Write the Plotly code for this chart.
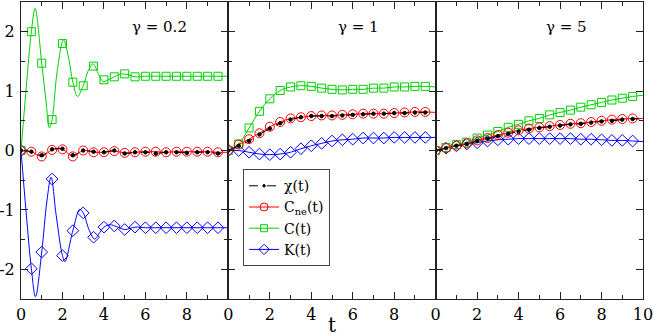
import plotly.graph_objects as go
from plotly.subplots import make_subplots

# ─── Data ─────────────────────────────────────────────────────────────────── #

T_MARK = [0, 0.5, 1, 1.5, 2, 2.5, 3, 3.5, 4, 4.5, 5, 5.5, 6, 6.5, 7, 7.5, 8, 8.5, 9, 9.5]
T_END = 10

# gamma = 0.2 (markers)
C_L = [0, 2.0, 1.47, 0.52, 1.80, 1.15, 1.09, 1.42, 1.19, 1.24, 1.29, 1.24,
       1.25, 1.25, 1.25, 1.25, 1.25, 1.25, 1.25, 1.25]
K_L = [0, -1.99, -1.71, -0.48, -1.77, -1.35, -1.05, -1.46, -1.29, -1.27, -1.33, -1.29,
       -1.30, -1.30, -1.30, -1.30, -1.30, -1.30, -1.30, -1.30]
CNE_L = [0, -0.02, -0.10, 0.01, 0.02, -0.10, 0.0, -0.03, -0.03, -0.01, -0.04, -0.03,
         -0.02, -0.02, -0.03, -0.02, -0.02, -0.02, -0.02, -0.03]
CHI_L = [0, -0.02, -0.08, 0.02, 0.03, -0.08, 0.0, -0.02, -0.03, 0.0, -0.05, -0.03,
         -0.03, -0.05, -0.03, -0.03, -0.04, -0.03, -0.03, -0.05]

# gamma = 0.2 (curves, with the extrema between markers)
C_L_LINE_T = [0, 0.25, 0.5, 0.68, 1.0, 1.2, 1.37, 1.5, 1.75, 2.05, 2.3, 2.5, 2.73, 3.0,
              3.25, 3.47, 3.75, 3.95, 4.2, 4.5, 4.85, 5.2, 5.5, 6, 7, 8, 9, 10]
C_L_LINE = [0, 1.05, 2.0, 2.39, 1.47, 0.85, 0.38, 0.52, 1.35, 1.86, 1.55, 1.15, 0.91, 1.09,
            1.35, 1.46, 1.28, 1.16, 1.19, 1.24, 1.29, 1.27, 1.24, 1.25, 1.25, 1.25, 1.25, 1.25]
K_L_LINE_T = [0, 0.25, 0.5, 0.7, 1.0, 1.25, 1.45, 1.7, 2.0, 2.12, 2.5, 2.83, 3.0, 3.3,
              3.55, 3.8, 4.0, 4.3, 4.6, 5.0, 5.5, 6, 7, 8, 9, 10]
K_L_LINE = [0, -1.05, -1.99, -2.46, -1.71, -0.85, -0.45, -1.1, -1.77, -1.87, -1.35, -0.99,
            -1.05, -1.35, -1.49, -1.38, -1.29, -1.25, -1.28, -1.33, -1.29, -1.30, -1.30,
            -1.30, -1.30, -1.30]

# gamma = 1 (markers + value at t = 10)
C_M = [0, 0.11, 0.38, 0.66, 0.87, 1.01, 1.07, 1.09, 1.08, 1.05, 1.03, 1.02,
       1.03, 1.03, 1.05, 1.05, 1.07, 1.07, 1.08, 1.08]
K_M = [0, 0.0, -0.03, -0.06, -0.07, -0.06, -0.03, 0.03, 0.08, 0.12, 0.16, 0.18,
       0.19, 0.21, 0.21, 0.21, 0.22, 0.22, 0.22, 0.22]
CNE_M = [0, 0.10, 0.19, 0.29, 0.40, 0.48, 0.54, 0.56, 0.58, 0.59, 0.59, 0.60,
         0.61, 0.62, 0.62, 0.62, 0.63, 0.64, 0.65, 0.65]
CHI_M = [0, 0.08, 0.16, 0.27, 0.37, 0.46, 0.52, 0.56, 0.58, 0.58, 0.58, 0.59,
         0.60, 0.61, 0.62, 0.62, 0.63, 0.63, 0.64, 0.64]
END_M = {"C": 1.07, "K": 0.22, "Cne": 0.64, "chi": 0.64}

# gamma = 5
C_R = [0, 0.05, 0.10, 0.14, 0.21, 0.26, 0.32, 0.39, 0.44, 0.50, 0.54, 0.60,
       0.64, 0.68, 0.73, 0.77, 0.81, 0.85, 0.88, 0.91]
K_R = [0, 0.04, 0.08, 0.11, 0.13, 0.16, 0.18, 0.19, 0.20, 0.20, 0.20, 0.20,
       0.20, 0.20, 0.19, 0.19, 0.18, 0.17, 0.17, 0.16]
CNE_R = [0, 0.04, 0.08, 0.12, 0.17, 0.21, 0.26, 0.30, 0.34, 0.37, 0.39, 0.41,
         0.43, 0.45, 0.46, 0.48, 0.50, 0.52, 0.53, 0.54]
CHI_R = [0, 0.04, 0.08, 0.11, 0.16, 0.20, 0.24, 0.28, 0.32, 0.35, 0.38, 0.40,
         0.42, 0.44, 0.45, 0.47, 0.49, 0.50, 0.52, 0.53]
END_R = {"C": 0.93, "K": 0.15, "Cne": 0.54, "chi": 0.53}

GAMMA_LABELS = ["γ = 0.2", "γ = 1", "γ = 5"]

# ─── Styles ───────────────────────────────────────────────────────────────── #

FONT = "DejaVu Serif"   # the only serif face that resolves in this browser
RED, GREEN, BLUE = "#ff0000", "#00d000", "#0000ff"
AXC = "#222"
STYLES = {
    "chi": dict(color="black", dash="dash", symbol="circle", size=3.5, name="χ(t)"),
    "Cne": dict(color=RED, dash="solid", symbol="circle-open", size=9,
                name="C<sub>ne</sub>(t)"),
    "C": dict(color=GREEN, dash="solid", symbol="square-open", size=8, name="C(t)"),
    "K": dict(color=BLUE, dash="solid", symbol="diamond-open", size=9, name="K(t)"),
}

fig = make_subplots(rows=1, cols=3, horizontal_spacing=0, shared_yaxes=True)


def add_series(col, key, marks, line_t=None, line_v=None):
    st = STYLES[key]
    fig.add_trace(
        go.Scatter(
            x=line_t, y=line_v, mode="lines", line_shape="spline",
            line=dict(color=st["color"], width=1, dash=st["dash"]),
            showlegend=False, hoverinfo="skip",
        ),
        row=1, col=col,
    )
    fig.add_trace(
        go.Scatter(
            x=T_MARK, y=marks, mode="markers",
            marker=dict(symbol=st["symbol"], size=st["size"], color=st["color"],
                        line=dict(width=1, color=st["color"])),
            showlegend=False, name=st["name"],
        ),
        row=1, col=col,
    )


add_series(1, "K", K_L, K_L_LINE_T, K_L_LINE)
add_series(1, "C", C_L, C_L_LINE_T, C_L_LINE)
add_series(1, "Cne", CNE_L, T_MARK + [T_END], CNE_L + [CNE_L[-1]])
add_series(1, "chi", CHI_L, T_MARK + [T_END], CHI_L + [CHI_L[-1]])

for col, series, ends in [
    (2, {"K": K_M, "C": C_M, "Cne": CNE_M, "chi": CHI_M}, END_M),
    (3, {"K": K_R, "C": C_R, "Cne": CNE_R, "chi": CHI_R}, END_R),
]:
    for key, vals in series.items():
        add_series(col, key, vals, T_MARK + [T_END], vals + [ends[key]])

# legend-only entries
for key in ["chi", "Cne", "C", "K"]:
    st = STYLES[key]
    fig.add_trace(
        go.Scatter(
            x=[None], y=[None], mode="lines+markers", name=st["name"],
            line=dict(color=st["color"], width=1, dash=st["dash"]),
            marker=dict(symbol=st["symbol"], size=st["size"] - 1, color=st["color"],
                        line=dict(width=1, color=st["color"])),
        ),
        row=1, col=2,
    )

# ─── Axes ─────────────────────────────────────────────────────────────────── #

axis_common = dict(
    showline=True, linecolor=AXC, linewidth=1, mirror="ticks",
    ticks="inside", ticklen=7, tickwidth=1, tickcolor=AXC,
    showgrid=False, zeroline=False, automargin=False,
    tickfont=dict(family=FONT, size=16, color="black"),
)

for col in (1, 2, 3):
    last = col == 3
    fig.update_xaxes(
        range=[0, 10],
        tickvals=[0, 2, 4, 6, 8, 10],
        ticktext=["0", "2", "4", "6", "8", "10" if last else " "],
        minor=dict(ticks="inside", ticklen=4, tickvals=[1, 3, 5, 7, 9], tickcolor=AXC),
        **axis_common, row=1, col=col,
    )
    fig.update_yaxes(
        range=[-2.5, 2.5],
        tickvals=[-2, -1, 0, 1, 2],
        ticktext=["-2", "-1", "0", "1", "2"],
        showticklabels=(col == 1),
        minor=dict(ticks="inside", ticklen=4, tickvals=[-1.5, -0.5, 0.5, 1.5],
                   tickcolor=AXC),
        **axis_common, row=1, col=col,
    )
fig.update_xaxes(ticklabelstandoff=1)
fig.update_yaxes(ticklabelstandoff=2)

for i, (label, xv) in enumerate(zip(GAMMA_LABELS, [6.7, 6.3, 6.3])):
    ref = "x" if i == 0 else f"x{i + 1}"
    fig.add_annotation(x=xv, y=2.08, xref=ref, yref="y", text=label, showarrow=False,
                       font=dict(family=FONT, size=15, color="black"))

# axis title "t" under the middle panel
fig.add_annotation(x=0.5, y=-0.086, xref="paper", yref="paper", yanchor="middle",
                   text="t", showarrow=False,
                   font=dict(family=FONT, size=20, color="black"))

fig.update_layout(
    width=654, height=336,
    margin=dict(l=21, r=11, t=2, b=37),
    plot_bgcolor="white", paper_bgcolor="white",
    font=dict(family=FONT),
    showlegend=True,
    legend=dict(
        x=0.357, y=0.437, xanchor="left", yanchor="top",
        bgcolor="white", bordercolor="#444", borderwidth=1,
        font=dict(family=FONT, size=14, color="black"),
        itemwidth=30, tracegroupgap=0,
    ),
)

fig.write_html("out.html", config={"displayModeBar": False},
               post_script="document.body.style.margin='0';")
